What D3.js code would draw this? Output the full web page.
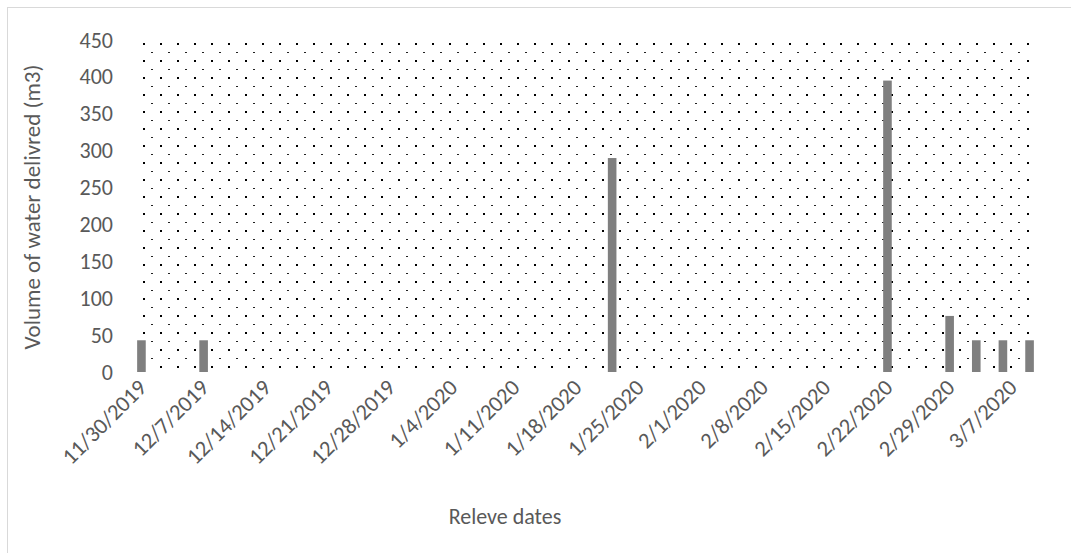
<!DOCTYPE html>
<html><head><meta charset="utf-8">
<script src="https://cdn.jsdelivr.net/npm/d3@7"></script>
<style>
html,body{margin:0;padding:0;background:#fff;}
text{font-family:Carlito,Calibri,Lato,"Liberation Sans",sans-serif;fill:#595959;}
</style></head>
<body>
<svg id="c" width="1071" height="553"></svg>
<script>
const dates = ["2019-11-30","2019-12-07","2020-01-22","2020-02-22","2020-02-29","2020-03-03","2020-03-06","2020-03-09"];
const volumes = [43, 43, 290, 395, 76, 43, 43, 43];
const yTicks = [0,50,100,150,200,250,300,350,400,450];
const xTickDates = ["2019-11-30","2019-12-07","2019-12-14","2019-12-21","2019-12-28","2020-01-04","2020-01-11","2020-01-18","2020-01-25","2020-02-01","2020-02-08","2020-02-15","2020-02-22","2020-02-29","2020-03-07"];
const yTitle = "Volume of water delivred (m3)";
const xTitle = "Releve dates";

(function(){
const svg = d3.select("#c");
const parse = d3.utcParse("%Y-%m-%d");
const fmt = d => (d.getUTCMonth()+1) + "/" + d.getUTCDate() + "/" + d.getUTCFullYear();
const half = 12*3600*1000;
const FONT = "Carlito,Calibri,Lato,'Liberation Sans',sans-serif";

const pL = 137, pR = 1034, pT = 40, pB = 372;
const x = d3.scaleUtc()
  .domain([new Date(parse(dates[0]).getTime()-half), new Date(parse(dates[dates.length-1]).getTime()+half)])
  .range([pL, pR]);
const y = d3.scaleLinear().domain([0,450]).range([pB, pT]);

svg.append("rect").attr("x",7.5).attr("y",7.5).attr("width",1080).attr("height",560)
  .attr("fill","none").attr("stroke","#d9d9d9").attr("stroke-width",1);

const defs = svg.append("defs");
const pat = defs.append("pattern").attr("id","dots").attr("patternUnits","userSpaceOnUse")
  .attr("x",143).attr("y",43).attr("width",17).attr("height",17);
pat.append("rect").attr("x",0).attr("y",0).attr("width",2).attr("height",2).attr("fill","#000");
pat.append("rect").attr("x",8).attr("y",9).attr("width",2).attr("height",1).attr("fill","#222");

svg.append("rect").attr("x",pL).attr("y",pT).attr("width",pR-pL).attr("height",pB-pT)
  .attr("fill","url(#dots)");

const bw = 8.6;
svg.append("g").selectAll("rect").data(dates.map((d,i)=>({d:parse(d),v:volumes[i]}))).join("rect")
  .attr("x", d => x(d.d) - bw/2)
  .attr("y", d => y(d.v))
  .attr("width", bw)
  .attr("height", d => y(0) - y(d.v))
  .attr("fill","#7f7f7f");

const yAxis = d3.axisLeft(y).tickValues(yTicks).tickSize(0).tickPadding(0);
const yg = svg.append("g").attr("transform","translate(113,0)").call(yAxis);
yg.select(".domain").remove();
yg.selectAll("text").attr("font-size","22px").style("fill","#595959").attr("font-family",FONT);

const xAxis = d3.axisBottom(x).tickValues(xTickDates.map(parse)).tickFormat(fmt).tickSize(0).tickPadding(0);
const xg = svg.append("g").attr("transform","translate(0,"+pB+")").call(xAxis);
xg.select(".domain").remove();
xg.selectAll("text")
  .attr("font-size","22.5px").style("fill","#595959").attr("font-family",FONT)
  .attr("text-anchor","end").attr("dy",null).attr("y",null)
  .attr("transform","translate(6,17) rotate(-45)");

svg.append("text").attr("transform","translate(40,207) rotate(-90)")
  .attr("text-anchor","middle").attr("font-size","23px").text(yTitle);
svg.append("text").attr("x",505).attr("y",524).attr("text-anchor","middle")
  .attr("font-size","22px").text(xTitle);
})();
</script>
</body></html>
